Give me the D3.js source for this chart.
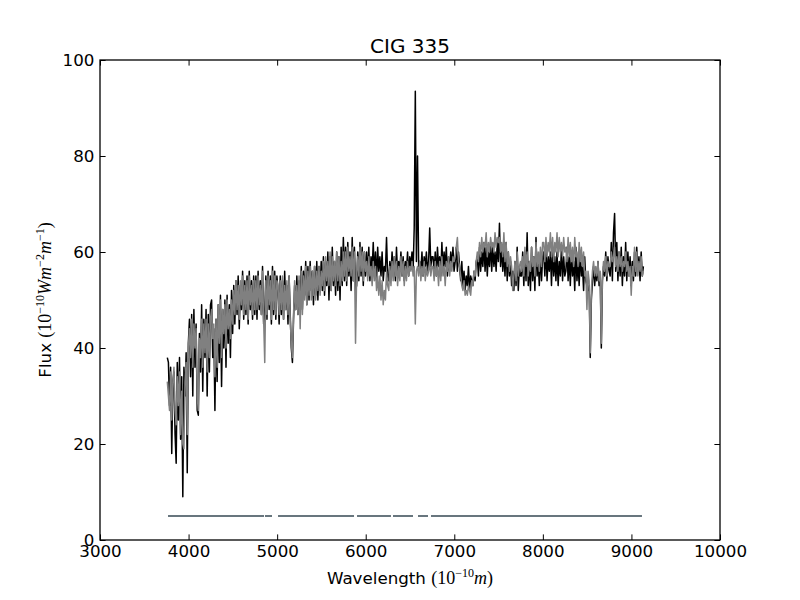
<!DOCTYPE html>
<html>
<head>
<meta charset="utf-8">
<script src="https://cdn.jsdelivr.net/npm/d3@7/dist/d3.min.js"></script>
<style>
html,body{margin:0;padding:0;background:#fff;}
svg{display:block;}
</style>
</head>
<body>
<svg id="chart" width="800" height="600"></svg>
<script>
// ---- data ----
const titleText = "CIG 335";
const xTicks = [3000, 4000, 5000, 6000, 7000, 8000, 9000, 10000];
const yTicks = [0, 20, 40, 60, 80, 100];
// wavelength grid of the spectrum samples (Angstrom)
const waveStart = 3760, waveStep = 12.5, waveCount = 431;
const wavelengths = d3.range(waveCount).map(i => waveStart + waveStep * i);

// observed flux (black), rows of 250 Angstrom
const observed = [
  38, 37, 28, 36, 18, 33, 35, 22, 16, 37, 25, 38, 21, 34, 9, 36, 30, 39, 14, 41,
  46, 34, 47, 30, 48, 36, 45, 27, 26, 43, 35, 49, 31, 46, 38, 48, 30, 47, 35, 49,
  50, 38, 44, 27, 46, 33, 49, 37, 51, 32, 48, 40, 50, 36, 51, 41, 49, 38, 52, 43,
  53, 45, 54, 47, 55, 44, 53, 48, 56, 46, 54, 47, 55, 45, 56, 48, 54, 46, 55, 47,
  55, 46, 56, 48, 54, 47, 57, 45, 47, 55, 46, 56, 48, 55, 45, 57, 47, 56, 46, 55,
  52, 45, 55, 47, 54, 46, 56, 48, 53, 45, 55, 47, 40, 37, 46, 53, 48, 55, 47, 54,
  50, 57, 48, 56, 51, 58, 49, 57, 50, 58, 52, 56, 49, 57, 51, 58, 50, 57, 52, 58,
  52, 59, 51, 58, 53, 60, 50, 59, 52, 61, 53, 58, 51, 60, 52, 59, 50, 61, 53, 63,
  54, 61, 53, 62, 55, 60, 52, 63, 54, 61, 52, 53, 60, 54, 62, 55, 61, 53, 60, 55,
  60, 55, 61, 54, 59, 56, 62, 55, 60, 54, 61, 56, 59, 55, 60, 54, 57, 56, 63, 55,
  54, 58, 55, 60, 56, 59, 54, 61, 55, 58, 56, 60, 55, 59, 54, 58, 56, 60, 55, 59,
  57, 60, 56, 65, 93.5, 58, 80, 57, 58, 56, 60, 55, 59, 57, 60, 56, 58, 65, 57, 59,
  59, 56, 60, 55, 61, 57, 59, 55, 62, 56, 60, 57, 61, 55, 59, 56, 60, 57, 61, 56,
  58, 61, 56, 60, 57, 54, 58, 53, 56, 52, 55, 53, 57, 52, 55, 54, 53, 56, 54, 58,
  59, 55, 61, 56, 60, 57, 62, 56, 61, 55, 60, 57, 62, 56, 61, 57, 60, 56, 62, 58,
  66, 57, 61, 56, 60, 55, 62, 54, 60, 55, 58, 53, 56, 52, 58, 53, 61, 52, 57, 55,
  55, 60, 53, 59, 54, 64, 53, 58, 52, 61, 54, 59, 52, 63, 55, 58, 53, 60, 54, 59,
  60, 55, 61, 54, 59, 56, 60, 53, 61, 55, 59, 54, 60, 53, 58, 55, 61, 54, 59, 55,
  56, 61, 54, 59, 53, 60, 55, 58, 52, 61, 54, 58, 53, 60, 55, 57, 52, 59, 54, 53,
  52, 53, 38, 50, 54, 57, 53, 56, 54, 58, 53, 55, 40, 54, 57, 55, 60, 54, 59, 56,
  55, 62, 54, 64, 68, 56, 62, 54, 60, 55, 61, 53, 59, 55, 62, 54, 60, 55, 59, 53,
  58, 54, 60, 55, 61, 56, 59, 54, 60, 55, 57
];
// model flux (gray), rows of 250 Angstrom
const model = [
  33, 30, 27, 35, 25, 33, 36, 27, 24, 34, 28, 35, 22, 31, 20, 19, 33, 37, 22, 40,
  44, 38, 46, 36, 45, 40, 44, 30, 27, 42, 38, 46, 36, 45, 39, 46, 35, 45, 38, 46,
  48, 42, 45, 34, 46, 36, 49, 41, 50, 38, 48, 43, 49, 40, 50, 44, 48, 42, 50, 45,
  52, 47, 54, 48, 53, 46, 54, 49, 55, 47, 53, 48, 54, 46, 55, 49, 53, 47, 54, 48,
  54, 48, 55, 49, 53, 47, 56, 46, 37, 54, 47, 55, 49, 54, 46, 56, 48, 55, 47, 54,
  53, 47, 54, 48, 55, 46, 53, 48, 54, 47, 55, 46, 41, 38, 47, 54, 48, 53, 47, 55,
  44, 56, 47, 55, 50, 57, 49, 56, 51, 57, 50, 56, 51, 57, 50, 56, 52, 57, 51, 56,
  53, 58, 52, 59, 54, 58, 53, 60, 52, 59, 54, 58, 53, 60, 54, 59, 53, 58, 54, 60,
  55, 60, 54, 61, 56, 59, 55, 61, 54, 60, 41, 55, 59, 55, 61, 56, 60, 54, 60, 56,
  58, 54, 59, 55, 57, 53, 58, 54, 57, 52, 55, 51, 55, 50, 54, 49, 52, 50, 56, 53,
  52, 57, 53, 58, 54, 59, 55, 58, 53, 57, 54, 59, 55, 58, 53, 57, 54, 58, 55, 57,
  56, 58, 55, 57, 45, 56, 57, 55, 58, 54, 57, 55, 58, 54, 57, 55, 56, 58, 55, 57,
  57, 54, 58, 55, 57, 53, 58, 54, 59, 55, 57, 53, 58, 56, 59, 55, 58, 56, 59, 58,
  59, 61, 63, 58, 57, 55, 53, 52, 54, 51, 52, 51, 53, 52, 51, 54, 53, 56, 55, 58,
  60, 58, 62, 59, 63, 60, 62, 61, 64, 59, 62, 60, 63, 61, 62, 60, 64, 61, 63, 62,
  63, 60, 62, 59, 64, 58, 62, 57, 60, 56, 59, 57, 52, 55, 58, 54, 60, 55, 57, 58,
  56, 59, 55, 61, 57, 60, 55, 58, 56, 61, 57, 59, 55, 62, 57, 60, 56, 61, 57, 62,
  62, 58, 63, 59, 62, 60, 64, 59, 63, 58, 62, 60, 64, 59, 63, 60, 62, 59, 63, 60,
  61, 58, 63, 59, 62, 58, 61, 57, 63, 59, 60, 57, 62, 58, 61, 57, 60, 55, 56, 48,
  56, 54, 39, 52, 56, 58, 55, 57, 55, 58, 54, 56, 41, 55, 58, 56, 59, 55, 58, 57,
  57, 60, 58, 59, 61, 57, 59, 56, 60, 57, 59, 56, 58, 57, 60, 56, 58, 55, 57, 51,
  57, 55, 61, 56, 60, 55, 58, 56, 59, 55, 56
];
// mask segments (wavelength ranges) drawn at a fixed flux level
const maskStart = [3768, 4863, 5010, 5902, 6308, 6590, 6737];
const maskEnd   = [4852, 4942, 5868, 6285, 6534, 6703, 9119];
const maskLevel = 5;

// ---- layout ----
const W = 800, H = 600;
const m = {left: 100, right: 80, top: 60, bottom: 60};
const pw = W - m.left - m.right, ph = H - m.top - m.bottom;
const fontSans = "'DejaVu Sans', sans-serif";
const fontSerif = "'Liberation Serif', 'DejaVu Serif', serif";
const fs = 16.7;

const svg = d3.select("#chart");
const g = svg.append("g").attr("transform", `translate(${m.left},${m.top})`);

const x = d3.scaleLinear().domain([3000, 10000]).range([0, pw]);
const y = d3.scaleLinear().domain([0, 100]).range([ph, 0]);

svg.append("defs").append("clipPath").attr("id", "clip")
  .append("rect").attr("width", pw).attr("height", ph);

const plot = g.append("g").attr("clip-path", "url(#clip)");

const obsData = wavelengths.map((w, i) => ({w, v: observed[i]}));
const modData = wavelengths.map((w, i) => ({w, v: model[i]}));
const line = d3.line().x(d => x(d.w)).y(d => y(d.v));

plot.append("path").datum(obsData).attr("d", line)
  .attr("fill", "none").attr("stroke", "#000").attr("stroke-width", 1.5)
  .attr("stroke-linejoin", "round");
plot.append("path").datum(modData).attr("d", line)
  .attr("fill", "none").attr("stroke", "#808080").attr("stroke-width", 1.5)
  .attr("stroke-linejoin", "round");

plot.selectAll("line.mask").data(maskStart.map((s, i) => ({s, e: maskEnd[i]})))
  .join("line").attr("class", "mask")
  .attr("x1", d => x(d.s)).attr("x2", d => x(d.e))
  .attr("y1", y(maskLevel)).attr("y2", y(maskLevel))
  .attr("stroke", "#68767e").attr("stroke-width", 2);

// axes (ticks inward on all sides)
const tl = 5.6;
function styleAxis(sel) {
  sel.select(".domain").remove();
  sel.selectAll(".tick line").attr("stroke", "#000").attr("stroke-width", 1);
  sel.selectAll(".tick text").attr("font-family", fontSans).attr("font-size", fs).attr("fill", "#000");
}
g.append("g").attr("transform", `translate(0,${ph})`)
  .call(d3.axisBottom(x).tickValues(xTicks).tickFormat(d3.format("d")).tickSize(-tl).tickPadding(5.6))
  .call(styleAxis);
g.append("g")
  .call(d3.axisTop(x).tickValues(xTicks).tickFormat("").tickSize(-tl))
  .call(styleAxis);
g.append("g")
  .call(d3.axisLeft(y).tickValues(yTicks).tickFormat(d3.format("d")).tickSize(-tl).tickPadding(5.6))
  .call(styleAxis);
g.append("g").attr("transform", `translate(${pw},0)`)
  .call(d3.axisRight(y).tickValues(yTicks).tickFormat("").tickSize(-tl))
  .call(styleAxis);

g.append("rect").attr("width", pw).attr("height", ph)
  .attr("fill", "none").attr("stroke", "#000").attr("stroke-width", 1.3);

// title
svg.append("text").attr("x", m.left + pw / 2).attr("y", 53)
  .attr("text-anchor", "middle").attr("font-family", fontSans).attr("font-size", 20)
  .text(titleText);

// math-style label helper
function mathLabel(t, parts) {
  let shift = 0;
  parts.forEach(p => {
    const ts = t.append("tspan").text(p.t);
    const target = p.sup ? -7 : 0;
    if (target !== shift) { ts.attr("dy", target - shift); shift = target; }
    ts.attr("font-family", p.sans ? fontSans : fontSerif)
      .attr("font-size", p.sup ? 12 : (p.sans ? fs : 18))
      .attr("font-style", p.it ? "italic" : "normal");
  });
}

const xl = svg.append("text").attr("x", m.left + pw / 2).attr("y", 584)
  .attr("text-anchor", "middle").attr("fill", "#000");
mathLabel(xl, [
  {t: "Wavelength ", sans: true},
  {t: "(10"},
  {t: "\u221210", sup: true},
  {t: "m", it: true},
  {t: ")"}
]);

const yl = svg.append("text").attr("transform", `translate(51,${m.top + ph / 2}) rotate(-90)`)
  .attr("text-anchor", "middle").attr("fill", "#000");
mathLabel(yl, [
  {t: "Flux ", sans: true},
  {t: "(10"},
  {t: "\u221210", sup: true},
  {t: "Wm", it: true},
  {t: "\u22122", sup: true},
  {t: "m", it: true},
  {t: "\u22121", sup: true},
  {t: ")"}
]);
</script>
</body>
</html>
